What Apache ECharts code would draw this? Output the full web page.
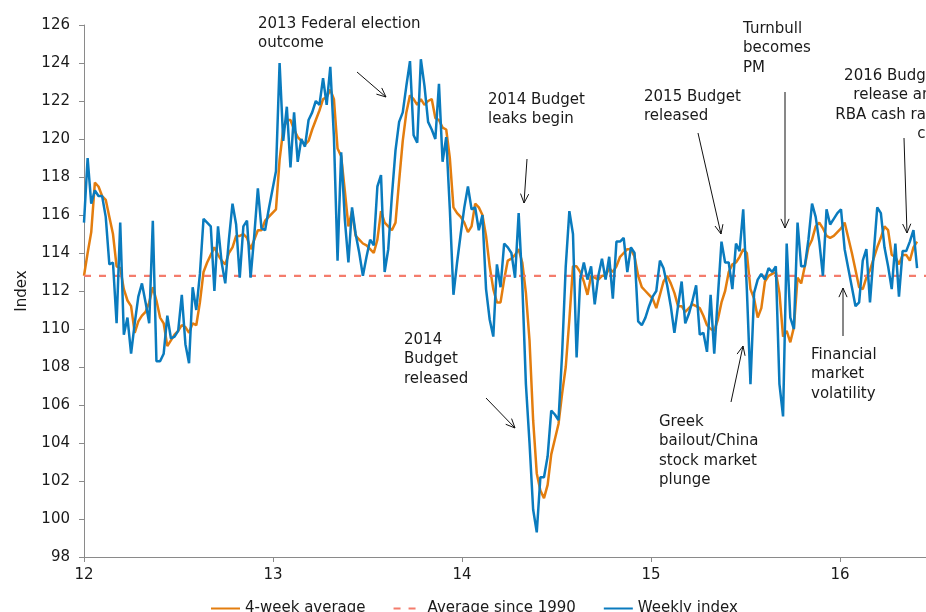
<!DOCTYPE html>
<html><head><meta charset="utf-8">
<script src="https://cdn.jsdelivr.net/npm/echarts@6/dist/echarts.min.js"></script>
<style>html,body{margin:0;padding:0;background:#fff}#c{width:926px;height:612px}</style>
</head><body><div id="c"></div>
<script>
// ---- data ----
const weeklyIndex = [
115.6,119.0,116.6,117.3,117.0,117.0,115.9,113.4,113.5,110.3,
115.6,109.7,110.6,108.7,110.3,111.7,112.4,111.4,110.3,115.7,
108.3,108.3,108.7,110.7,109.5,109.6,109.9,111.8,109.2,108.2,
112.2,111.0,112.9,115.8,115.6,115.4,112.0,115.4,113.5,112.4,
114.7,
116.6,115.5,112.7,115.4,115.7,112.7,114.9,117.4,115.3,115.2,
116.3,117.3,118.3,124.0,119.9,121.7,118.5,121.4,118.8,120.0,
119.6,121.0,121.4,122.0,121.8,123.2,121.8,123.8,120.1,113.6,
119.3,115.8,113.5,116.4,115.0,114.0,112.8,113.8,114.7,114.4,
117.5,118.1,113.0,114.2,117.0,119.4,120.9,121.4,122.8,124.1,
120.2,119.8,124.2,122.8,120.9,120.5,120.0,122.9,118.8,120.1,
116.3,111.8,113.5,115.0,116.4,117.5,116.3,116.4,115.2,116.0,
112.1,110.5,109.6,113.4,112.2,114.5,114.3,114.0,112.7,116.1,
112.4,107.1,104.0,100.5,99.3,102.2,102.2,103.3,105.7,105.5,
105.2,108.7,113.3,116.2,115.0,108.5,112.6,113.5,112.6,
113.3,111.3,112.8,113.7,112.6,113.8,111.6,114.6,114.6,114.8,
113.0,114.3,114.0,110.4,110.2,110.6,111.2,111.7,112.0,113.6,
113.2,112.3,111.2,109.8,111.2,112.5,110.3,110.8,111.5,112.3,
109.7,109.8,108.8,111.8,108.7,111.7,114.6,113.5,113.5,112.1,
114.5,114.1,
116.3,112.1,107.1,111.9,112.6,112.9,112.6,113.2,113.0,113.3,
107.1,105.4,114.5,110.6,110.0,115.6,113.3,113.3,114.7,116.6,
115.9,114.6,112.8,116.3,115.5,115.8,116.1,116.3,114.2,113.2,
112.2,111.2,111.4,113.6,114.2,111.4,113.9,116.4,116.1,114.3,
113.3,112.1,114.5,111.7,114.1,114.1,114.6,115.2,113.2
];
const fourWeekAverage = [
112.8,114.0,115.1,117.7,117.5,117.0,116.8,115.9,115.0,113.3,
113.2,112.1,111.5,111.2,109.8,110.4,110.7,110.9,111.4,112.2,
111.5,110.6,110.3,109.1,109.4,109.7,109.9,110.2,110.1,109.8,
110.3,110.2,111.4,113.0,113.5,113.9,114.3,113.9,113.6,113.4,
114.0,
114.3,114.9,114.9,115.0,114.8,114.2,114.7,115.2,115.2,115.7,
115.9,116.1,116.3,118.9,120.5,121.0,121.0,120.5,120.1,119.9,
119.7,119.9,120.5,121.0,121.5,122.1,122.2,122.6,122.1,119.5,
119.1,117.3,115.4,116.2,114.9,114.7,114.5,114.4,114.2,114.0,
114.7,116.2,115.6,115.4,115.2,115.6,117.8,119.9,121.4,122.3,
122.1,121.8,122.1,121.8,122.0,122.1,121.1,121.0,120.6,120.5,
119.0,116.4,116.1,115.9,115.6,115.1,115.4,116.6,116.4,116.0,
114.9,113.3,112.1,111.4,111.4,112.6,113.6,113.7,113.9,114.2,
113.5,111.9,109.4,105.2,102.4,101.5,101.1,101.8,103.4,104.2,
105.0,106.6,108.0,110.5,113.3,113.3,113.0,112.5,111.8,
112.8,112.7,112.6,112.8,112.8,113.2,113.0,113.3,113.8,114.0,
114.2,114.2,113.8,112.8,112.2,112.0,111.8,111.6,111.1,111.8,
112.5,112.8,112.4,111.9,111.2,111.2,110.9,111.1,111.3,111.2,
111.1,110.7,110.2,110.0,109.9,110.5,111.4,112.0,113.0,113.4,
113.5,113.8,
114.2,114.0,112.1,111.6,110.6,111.1,112.5,112.8,112.9,113.0,
111.9,109.6,109.9,109.3,110.1,112.7,112.4,113.3,114.3,114.7,
115.4,115.6,115.3,114.9,114.8,114.9,115.1,115.3,115.6,114.8,
114.0,113.1,112.2,112.1,112.7,113.1,113.7,114.3,114.8,115.4,
115.2,113.9,113.8,113.4,113.9,113.9,113.6,114.3,114.6
];
const averageSince1990 = 112.8;
const firstWeek = 12;          // start of the weekly series (year 2012)
const weeksPerYear = 52.18;
const xRange = [12, 16.455];
const yRange = [98, 126];
const seriesNames = ['4-week average', 'Average since 1990', 'Weekly index'];

// ---- build ----
const weekX = weeklyIndex.map((_, i) => firstWeek + i / weeksPerYear);
const weeklyData = weeklyIndex.map((v, i) => [weekX[i], v]);
const avgData = fourWeekAverage.map((v, i) => [weekX[i], v]);
const longRunData = [[xRange[0], averageSince1990], [xRange[1], averageSince1990]];

const FONT = 'DejaVu Sans';
const TXT = '#1a1a1a';

function arrow(x1, y1, x2, y2) {
  const a = Math.atan2(y2 - y1, x2 - x1), L = 10, s = 0.42;
  const p1 = [x2 - L * Math.cos(a - s), y2 - L * Math.sin(a - s)];
  const p2 = [x2 - L * Math.cos(a + s), y2 - L * Math.sin(a + s)];
  return [
    {type: 'line', shape: {x1, y1, x2, y2}, style: {stroke: '#111', lineWidth: 1}, z: 100},
    {type: 'polyline', shape: {points: [p1, [x2, y2], p2]}, style: {stroke: '#111', lineWidth: 1, fill: null}, z: 100}
  ];
}
function note(x, yCenter, text, align) {
  return {type: 'text', x: x, y: yCenter - 9.75, z: 100,
    style: {text: text, font: '15px "' + FONT + '"', fill: TXT, lineHeight: 19.5,
      align: align || 'left', verticalAlign: 'top'}};
}

const graphics = [].concat(
  note(258, 24, '2013 Federal election\noutcome'), arrow(357, 72, 386, 97),
  note(488, 100, '2014 Budget\nleaks begin'), arrow(527, 159, 524, 203),
  note(644, 97, '2015 Budget\nreleased'), arrow(698, 133, 721, 234),
  note(743, 29, 'Turnbull\nbecomes\nPM'), arrow(785, 92, 785, 228),
  note(941, 76, '2016 Budget\nrelease and\nRBA cash rate\ncut', 'right'), arrow(904, 138, 907, 233),
  note(404, 340, '2014\nBudget\nreleased'), arrow(486, 398, 515, 428),
  note(659, 422, 'Greek\nbailout/China\nstock market\nplunge'), arrow(731, 402, 743, 346),
  note(811, 355, 'Financial\nmarket\nvolatility'), arrow(843, 336, 843, 288)
);

const chart = echarts.init(document.getElementById('c'), null, {renderer: 'canvas'});
chart.setOption({
  animation: false,
  backgroundColor: '#fff',
  textStyle: {fontFamily: FONT},
  grid: {left: 84, right: 0, top: 25, bottom: 55, containLabel: false},
  legend: {
    data: seriesNames, left: 205, top: 596, itemWidth: 29, itemHeight: 12, itemGap: 27,
    itemStyle: {opacity: 0},
    textStyle: {fontFamily: FONT, fontSize: 15, color: TXT}
  },
  xAxis: {
    type: 'value', min: xRange[0], max: xRange[1], interval: 1,
    axisLine: {show: true, lineStyle: {color: '#8a8a8a', width: 1}},
    axisTick: {show: true, length: 5, lineStyle: {color: '#8a8a8a'}},
    splitLine: {show: false},
    axisLabel: {margin: 11, fontSize: 15, color: TXT, fontFamily: FONT, showMaxLabel: false,
      formatter: v => (Math.abs(v - Math.round(v)) < 1e-6 ? String(Math.round(v)) : '')}
  },
  yAxis: {
    type: 'value', min: yRange[0], max: yRange[1], interval: 2,
    name: 'Index', nameLocation: 'middle', nameGap: 54, nameRotate: 90,
    nameTextStyle: {fontSize: 15, color: TXT, fontFamily: FONT},
    axisLine: {show: true, lineStyle: {color: '#8a8a8a', width: 1}},
    axisTick: {show: true, length: 5, lineStyle: {color: '#8a8a8a'}},
    splitLine: {show: false},
    axisLabel: {margin: 14, fontSize: 15, color: TXT, fontFamily: FONT}
  },
  series: [
    {name: seriesNames[0], type: 'line', data: avgData, symbol: 'none',
      lineStyle: {color: '#E37D0E', width: 2.5}, itemStyle: {color: '#E37D0E'}, z: 2},
    {name: seriesNames[1], type: 'line', data: longRunData, symbol: 'none',
      lineStyle: {color: '#F47C6C', width: 2.2, type: [7, 8]}, itemStyle: {color: '#F47C6C'}, z: 3},
    {name: seriesNames[2], type: 'line', data: weeklyData, symbol: 'none',
      lineStyle: {color: '#0A7BBE', width: 2.5}, itemStyle: {color: '#0A7BBE'}, z: 4}
  ],
  graphic: graphics
});
</script></body></html>
